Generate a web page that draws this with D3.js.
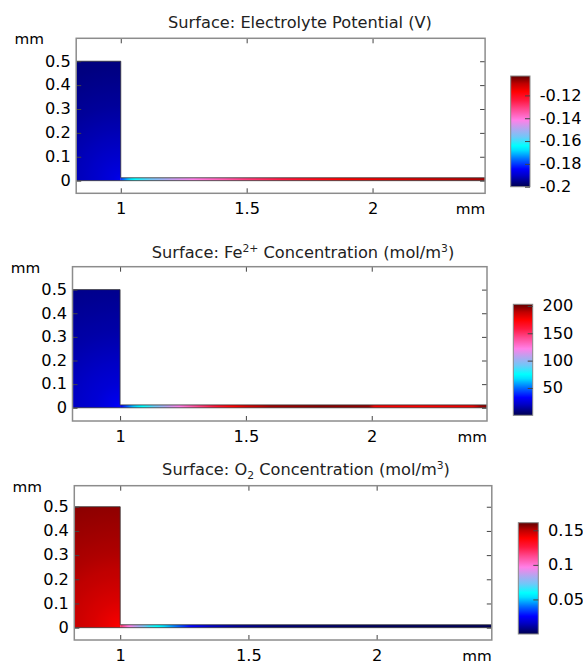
<!DOCTYPE html>
<html>
<head>
<meta charset="utf-8">
<script src="https://cdn.jsdelivr.net/npm/d3@7"></script>
<style>
  body { margin: 0; background: #fff; }
  svg { display: block; font-family: "DejaVu Sans", sans-serif; }
</style>
</head>
<body>
<div id="chart"></div>
<script>
///////////////////////// Data /////////////////////////

// geometry (mm): the cavity and the thin crevice strip
const cavityX = [0.7, 1];
const cavityY = [0, 0.5];
const stripX = [1, 2.6];
const stripY = [0, 0.012];

// axis ticks
const xTicks = [1, 1.5, 2];
const yTicks = [0, 0.1, 0.2, 0.3, 0.4, 0.5];

// distance from the cavity mouth (1, 0) where cavity values were read
const cavityR = [0, 0.03, 0.1, 0.2, 0.3, 0.45, 0.6];

// electrolyte potential (V)
const potentialRange = [-0.2, -0.103];
const potentialTicks = [-0.2, -0.18, -0.16, -0.14, -0.12];
const potentialCavity = [-0.186, -0.188, -0.190, -0.192, -0.194, -0.196, -0.197];
const potentialStripX = [1.0, 1.03, 1.06, 1.12, 1.2, 1.3, 1.4, 1.5, 1.7, 1.9, 2.1, 2.3, 2.45];
const potentialStrip = [-0.180, -0.170, -0.163, -0.156, -0.148, -0.141, -0.136, -0.130, -0.122, -0.116, -0.113, -0.110, -0.108];

// Fe2+ concentration (mol/m3)
const feRange = [0, 203];
const feTicks = [50, 100, 150, 200];
const feCavity = [33, 28, 23, 19, 15, 11, 8];
const feStripX = [1.0, 1.05, 1.09, 1.15, 1.2, 1.25, 1.32, 1.4, 1.5, 1.6, 1.8, 1.99, 2.01, 2.2, 2.4, 2.43, 2.46];
const feStrip = [30, 61, 75, 95, 112, 126, 146, 166, 183, 193, 197, 195, 177, 175, 179, 193, 197];

// O2 concentration (mol/m3)
const o2Range = [0, 0.161];
const o2Ticks = [0.05, 0.1, 0.15];
const o2Cavity = [0.138, 0.141, 0.145, 0.149, 0.152, 0.155, 0.158];
const o2StripX = [1.0, 1.03, 1.07, 1.11, 1.15, 1.2, 1.27, 1.35, 1.45, 1.6, 2.0, 2.45];
const o2Strip = [0.12, 0.099, 0.083, 0.067, 0.058, 0.045, 0.027, 0.016, 0.0096, 0.005, 0.0016, 0.0008];

// colour table (wave-like: navy - blue - cyan - lavender - pink - red - dark red)
const waveStops = [0, 0.1, 0.16, 0.25, 0.33, 0.37, 0.45, 0.52, 0.6, 0.7, 0.78, 0.86, 0.93, 1];
const waveColors = ["#000050", "#0000c8", "#0000ff", "#0070ff", "#00e0ff", "#00ffff", "#70c8f8",
                    "#b0a8f0", "#ff80e8", "#ff4890", "#ff1840", "#ff0000", "#c00000", "#600000"];

///////////////////////// Layout /////////////////////////
const width = 583;
const height = 661;
const fontSize = 15;
const stretch = "scale(1.08,1)";

const panels = [
  {
    title: [["Surface: Electrolyte Potential (V)", ""]],
    titleX: 300, titleY: 28,
    frame: {left: 76.2, right: 485.1, top: 38.3, bottom: 193.3},
    xDomain: [0.823, 2.447], yDomain: [-0.053, 0.596],
    bar: {left: 510.7, right: 530, top: 76, bottom: 186.7},
    range: potentialRange, barTicks: potentialTicks,
    cavity: potentialCavity, stripPos: potentialStripX, strip: potentialStrip
  },
  {
    title: [["Surface: Fe", ""], ["2+", "sup"], [" Concentration (mol/m", ""], ["3", "sup"], [")", ""]],
    titleX: 303, titleY: 257.7,
    frame: {left: 72.5, right: 487, top: 266.7, bottom: 421},
    xDomain: [0.811, 2.458], yDomain: [-0.056, 0.597],
    bar: {left: 513.3, right: 532.7, top: 304.3, bottom: 415.3},
    range: feRange, barTicks: feTicks,
    cavity: feCavity, stripPos: feStripX, strip: feStrip
  },
  {
    title: [["Surface: O", ""], ["2", "sub"], [" Concentration (mol/m", ""], ["3", "sup"], [")", ""]],
    titleX: 306, titleY: 475,
    frame: {left: 74.3, right: 491.8, top: 485.7, bottom: 640},
    xDomain: [0.821, 2.449], yDomain: [-0.051, 0.587],
    bar: {left: 518.3, right: 538.3, top: 522.7, bottom: 634},
    range: o2Range, barTicks: o2Ticks,
    cavity: o2Cavity, stripPos: o2StripX, strip: o2Strip
  }
];

///////////////////////// Drawing /////////////////////////
const svg = d3.select("#chart").append("svg")
  .attr("width", width)
  .attr("height", height);
const defs = svg.append("defs");

const wave = d3.scaleLinear()
  .domain(waveStops)
  .range(waveColors)
  .interpolate(d3.interpolateRgb)
  .clamp(true);

// colour bar gradient, bottom to top
defs.append("linearGradient")
    .attr("id", "wave")
    .attr("x1", 0).attr("y1", 1).attr("x2", 0).attr("y2", 0)
  .selectAll("stop")
  .data(waveStops)
  .join("stop")
    .attr("offset", d => d)
    .attr("stop-color", (d, i) => waveColors[i]);

const styleAxis = a => a
  .attr("font-family", "DejaVu Sans")
  .attr("font-size", fontSize)
  .call(a => a.select(".domain").remove())
  .call(a => a.selectAll(".tick line").attr("stroke", "#444"))
  .call(a => a.selectAll(".tick text").attr("fill", "#000").attr("transform", stretch));

panels.forEach((p, k) => {
  const x = d3.scaleLinear().domain(p.xDomain).range([p.frame.left, p.frame.right]);
  const y = d3.scaleLinear().domain(p.yDomain).range([p.frame.bottom, p.frame.top]);
  const norm = d3.scaleLinear().domain(p.range).range([0, 1]);
  const color = v => wave(norm(v));
  const g = svg.append("g");

  defs.append("clipPath").attr("id", `clip${k}`)
    .append("rect")
      .attr("x", p.frame.left).attr("y", p.frame.top)
      .attr("width", p.frame.right - p.frame.left)
      .attr("height", p.frame.bottom - p.frame.top);

  // cavity field, spreading from the mouth corner
  const rMax = d3.max(cavityR);
  const radial = d3.scaleLinear().domain(cavityR).range(p.cavity).clamp(true);
  defs.append("radialGradient")
      .attr("id", `cav${k}`)
      .attr("gradientUnits", "userSpaceOnUse")
      .attr("cx", x(cavityX[1])).attr("cy", y(cavityY[0]))
      .attr("r", x(cavityX[1] + rMax) - x(cavityX[1]))
    .selectAll("stop")
    .data(d3.range(41))
    .join("stop")
      .attr("offset", i => i / 40)
      .attr("stop-color", i => color(radial(rMax * i / 40)));

  // strip field along x
  const along = d3.scaleLinear().domain(p.stripPos).range(p.strip).clamp(true);
  const sx = d3.scaleLinear().domain([0, 300]).range(stripX);
  defs.append("linearGradient")
      .attr("id", `strip${k}`)
      .attr("gradientUnits", "userSpaceOnUse")
      .attr("x1", x(stripX[0])).attr("y1", 0)
      .attr("x2", x(stripX[1])).attr("y2", 0)
    .selectAll("stop")
    .data(d3.range(301))
    .join("stop")
      .attr("offset", i => i / 300)
      .attr("stop-color", i => color(along(sx(i))));

  const plot = g.append("g").attr("clip-path", `url(#clip${k})`);

  plot.append("rect")
    .attr("x", x(cavityX[0]))
    .attr("y", y(cavityY[1]))
    .attr("width", x(cavityX[1]) - x(cavityX[0]))
    .attr("height", y(cavityY[0]) - y(cavityY[1]))
    .attr("fill", `url(#cav${k})`);

  plot.append("rect")
    .attr("x", x(stripX[0]))
    .attr("y", y(stripY[1]))
    .attr("width", x(stripX[1]) - x(stripX[0]))
    .attr("height", y(stripY[0]) - y(stripY[1]))
    .attr("fill", `url(#strip${k})`);

  const outline = [
    [cavityX[0], cavityY[0]], [cavityX[0], cavityY[1]], [cavityX[1], cavityY[1]],
    [cavityX[1], stripY[1]], [stripX[1], stripY[1]], [stripX[1], stripY[0]]
  ];
  plot.append("path")
    .attr("d", d3.line().x(d => x(d[0])).y(d => y(d[1]))(outline) + "Z")
    .attr("fill", "none")
    .attr("stroke", "#333")
    .attr("stroke-width", 0.8);

  // axes, ticks inside on all four sides
  g.append("g")
    .attr("transform", `translate(0,${p.frame.bottom})`)
    .call(d3.axisBottom(x).tickValues(xTicks).tickSize(-5).tickPadding(10).tickFormat(String))
    .call(styleAxis);
  g.append("g")
    .attr("transform", `translate(0,${p.frame.top})`)
    .call(d3.axisTop(x).tickValues(xTicks).tickSize(-5).tickFormat(""))
    .call(styleAxis);
  g.append("g")
    .attr("transform", `translate(${p.frame.left},0)`)
    .call(d3.axisLeft(y).tickValues(yTicks).tickSize(-5).tickPadding(5).tickFormat(String))
    .call(styleAxis);
  g.append("g")
    .attr("transform", `translate(${p.frame.right},0)`)
    .call(d3.axisRight(y).tickValues(yTicks).tickSize(-5).tickFormat(""))
    .call(styleAxis);

  g.append("rect")
    .attr("x", p.frame.left).attr("y", p.frame.top)
    .attr("width", p.frame.right - p.frame.left)
    .attr("height", p.frame.bottom - p.frame.top)
    .attr("fill", "none")
    .attr("stroke", "#8c8c8c")
    .attr("stroke-width", 1.5);

  // unit labels
  g.append("text")
    .attr("transform", `translate(${p.frame.left - 47},${p.frame.top + 6})${stretch}`)
    .attr("text-anchor", "middle")
    .attr("font-size", 14)
    .text("mm");
  g.append("text")
    .attr("transform", `translate(${p.frame.right},${p.frame.bottom + 20.5})${stretch}`)
    .attr("text-anchor", "end")
    .attr("font-size", 14)
    .text("mm");

  // title
  const title = g.append("text")
    .attr("transform", `translate(${p.titleX},${p.titleY})${stretch}`)
    .attr("text-anchor", "middle")
    .attr("font-size", fontSize)
    .attr("fill", "#222");
  let shift = 0;
  p.title.forEach(([txt, kind]) => {
    const target = kind === "sup" ? -6 : kind === "sub" ? 4 : 0;
    title.append("tspan")
      .attr("dy", target - shift)
      .attr("font-size", kind ? 10 : fontSize)
      .text(txt);
    shift = target;
  });

  // colour bar
  const cb = d3.scaleLinear().domain(p.range).range([p.bar.bottom, p.bar.top]);
  g.append("rect")
    .attr("x", p.bar.left).attr("y", p.bar.top)
    .attr("width", p.bar.right - p.bar.left)
    .attr("height", p.bar.bottom - p.bar.top)
    .attr("fill", "url(#wave)")
    .attr("stroke", "#888")
    .attr("stroke-width", 1);
  g.append("g")
    .attr("transform", `translate(${p.bar.right},0)`)
    .call(d3.axisRight(cb).tickValues(p.barTicks).tickSize(-5).tickPadding(9).tickFormat(String))
    .call(styleAxis);
});
</script>
</body>
</html>
